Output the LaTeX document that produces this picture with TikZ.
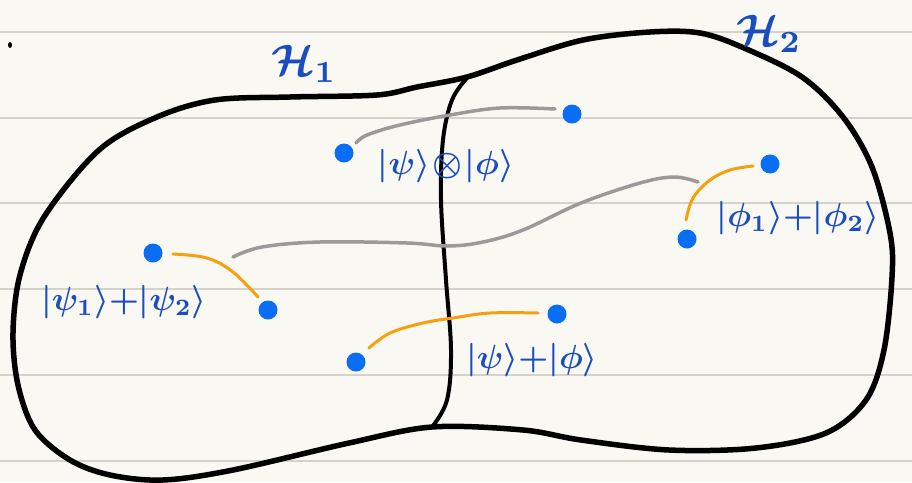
\documentclass[tikz,border=0pt]{standalone}
\usepackage{amsmath}
\definecolor{paper}{HTML}{FAF8F3}
\definecolor{rule}{HTML}{D5D2CB}
\definecolor{dotblue}{HTML}{0A6EF5}
\definecolor{inkblue}{HTML}{1A4DC0}
\definecolor{curvegray}{HTML}{9A9A9A}
\definecolor{curveorange}{HTML}{F5A00F}
\tikzset{
  dotnode/.style={circle, fill=dotblue, draw=none, minimum size=19pt, inner sep=0pt},
  lbl/.style={text=inkblue, scale=3.35, inner sep=0pt, font=\boldmath},
  hlbl/.style={text=inkblue, scale=4.4, inner sep=0pt, font=\boldmath},
  outline/.style={draw=black, line width=5.5pt, line join=round},
  divider/.style={draw=black, line width=4pt, line cap=round},
  graycurve/.style={draw=curvegray, line width=3.5pt, line cap=round},
  orangecurve/.style={draw=curveorange, line width=3pt, line cap=round},
  ruleline/.style={draw=rule, line width=1.3pt}
}
\begin{document}
\begin{tikzpicture}[x=1pt,y=-1pt]
\fill[paper] (0,0) rectangle (912,482);
\useasboundingbox (0,0) rectangle (912,482);
\foreach \yy in {32,118,203,289,375,461} \draw[ruleline] (0,\yy) -- (912,\yy);
\fill[black] (10,45) ellipse (2pt and 3pt);
% outline
\draw[outline] plot[smooth cycle, tension=0.55] coordinates {
(467,77) (517,60) (583,40) (650,32) (700,33) (744,48) (802,77) (843,117) (872,167)
(890,233) (892,277) (884,350) (866,400) (826,433) (756,448) (669,450) (581,440) (523,430)
(432,427) (349,443) (233,470) (163,480) (110,475) (70,460) (35,430) (18,385) (13,333)
(20,275) (44,217) (99,150) (157,117) (215,100) (290,97) (377,95) (417,87)};
% divider
\draw[divider] plot[smooth, tension=0.6] coordinates {
(467,78) (452,100) (443,140) (441,200) (446,280) (451,350) (447,400) (432,427)};
% curves
\draw[graycurve] plot[smooth, tension=0.6] coordinates {
(356,143) (367,135) (400,125) (450,115) (500,108) (555,109)};
\draw[graycurve] plot[smooth, tension=0.6] coordinates {
(233,257) (262,247) (320,242) (407,243) (448,246) (483,242) (523,230) (581,203) (640,183) (674,177) (698,182)};
\draw[orangecurve] plot[smooth, tension=0.6] coordinates {
(173,254) (207,258) (233,272) (258,297)};
\draw[orangecurve] plot[smooth, tension=0.6] coordinates {
(369,348) (390,333) (423,323) (453,318) (490,313) (538,313)};
\draw[orangecurve] plot[smooth, tension=0.6] coordinates {
(686,220) (693,198) (710,180) (730,170) (753,166)};
% dots
\node[dotnode] (a1) at (344,153) {};
\node[dotnode] (a2) at (572,114) {};
\node[dotnode] (b1) at (770,164) {};
\node[dotnode] (b2) at (687,239) {};
\node[dotnode] (c1) at (153,253) {};
\node[dotnode] (c2) at (268,310) {};
\node[dotnode] (e1) at (557,314) {};
\node[dotnode] (e2) at (356,362) {};
% labels
\node[hlbl] (h1) at (304,64) {$\mathcal{H}_1$};
\node[hlbl] (h2) at (769,34) {$\mathcal{H}_2$};
\node[lbl] (t1) at (446,166) {$|\psi\rangle\!\otimes\!|\phi\rangle$};
\node[lbl] (t2) at (124,302) {$|\psi_1\rangle{+}|\psi_2\rangle$};
\node[lbl] (t3) at (532,360) {$|\psi\rangle{+}|\phi\rangle$};
\node[lbl] (t4) at (798,218) {$|\phi_1\rangle{+}|\phi_2\rangle$};
\end{tikzpicture}
\end{document}
